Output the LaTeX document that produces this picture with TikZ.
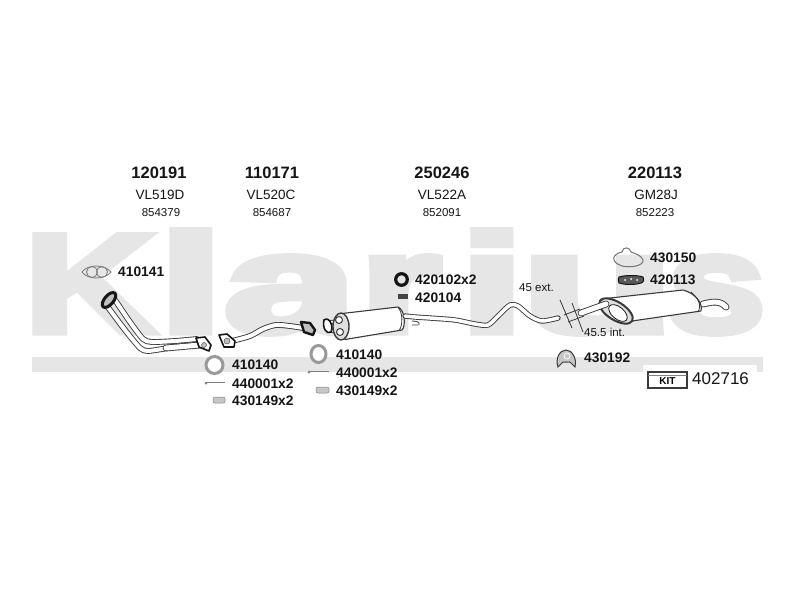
\documentclass[tikz,border=0pt]{standalone}
\usepackage{fontspec}
\setmainfont{Liberation Sans}
\newfontfamily\wmfont[FakeBold=5]{Liberation Sans Bold}
\definecolor{wm}{HTML}{E6E6E6}
\definecolor{ink}{HTML}{151515}
\definecolor{pipeline}{HTML}{3A3A3A}
\newcommand\wmletter[3]{\makebox[#1pt][l]{\scalebox{#2}[1]{#3}}}
\tikzset{
  ref/.style={font=\bfseries\fontsize{16.5}{18}\selectfont,text=ink,inner sep=0pt},
  sub/.style={font=\fontsize{13.5}{15}\selectfont,text=ink,inner sep=0pt},
  oe/.style={font=\fontsize{11.5}{13}\selectfont,text=ink,inner sep=0pt},
  lab/.style={font=\bfseries\fontsize{13.8}{15}\selectfont,text=ink,inner sep=0pt,anchor=west},
  note/.style={font=\fontsize{11.5}{13}\selectfont,text=ink,inner sep=0pt,anchor=west},
  tube/.style={draw=pipeline,line width=.9pt,double=white,double distance=#1,line cap=round,line join=round},
  tube/.default=3pt,
  body/.style={draw=pipeline,line width=1.1pt,fill=white,line join=round},
  thin/.style={draw=pipeline,line width=.8pt},
  gring/.style={draw=gray!80,line width=3pt,fill=white},
  flange/.style={draw=ink,line width=1.6pt,fill=white,line join=round},
  sleeve/.style={draw=gray,fill=gray!45,line width=.5pt,rounded corners=2pt},
}
\begin{document}
\begin{tikzpicture}[x=1pt,y=-1pt]
\useasboundingbox (0,0) rectangle (800,600);
\fill[white] (0,0) rectangle (800,600);
% watermark
\node[anchor=base west,inner sep=0pt,text=wm,font=\wmfont\fontsize{140}{140}\selectfont] (wmk) at (24.7,332) {\wmletter{134.3}{1.28}{K}\wmletter{65.1}{1.64}{l}\wmletter{135.9}{1.70}{a}\wmletter{100}{1.48}{r}\wmletter{61.6}{1.64}{i}\wmletter{145.4}{1.78}{u}\wmletter{100}{1.26}{s}};
\fill[wm] (32,357) rectangle (763,372);
\fill[white] (643,365) rectangle (757,400);
% headings
\node[ref] (r1) at (159,173) {120191};
\node[ref] (r2) at (272,173) {110171};
\node[ref] (r3) at (442,173) {250246};
\node[ref] (r4) at (655,173) {220113};
\node[sub] (s1) at (160,195) {VL519D};
\node[sub] (s2) at (271,195) {VL520C};
\node[sub] (s3) at (442,195) {VL522A};
\node[sub] (s4) at (656,195) {GM28J};
\node[oe] (o1) at (161,213) {854379};
\node[oe] (o2) at (272,213) {854687};
\node[oe] (o3) at (442,213) {852091};
\node[oe] (o4) at (655,213) {852223};
% labels
\node[lab] (l1) at (118,272) {410141};
\node[lab] (l2) at (232,365) {410140};
\node[lab] (l3) at (232,384) {440001x2};
\node[lab] (l4) at (232,401) {430149x2};
\node[lab] (l5) at (336,355) {410140};
\node[lab] (l6) at (336,373) {440001x2};
\node[lab] (l7) at (336,391) {430149x2};
\node[lab] (l8) at (415,280) {420102x2};
\node[lab] (l9) at (415,298) {420104};
\node[lab] (l10) at (650,258) {430150};
\node[lab] (l11) at (650,280) {420113};
\node[lab] (l12) at (584,358) {430192};
\node[note] (n1) at (519,288) {45 ext.};
\node[note] (n2) at (584,332) {45.5 int.};
% gasket 410141
\draw[draw=gray,line width=.9pt] (82,272) .. controls (88,264) and (104,264) .. (111,272) .. controls (104,280) and (88,280) .. (82,272) -- cycle;
\draw[gray,line width=.9pt] (92,272) circle (5.5) (102,272) circle (5.5);
% front pipe
\draw[tube=4pt] plot[smooth,tension=.4] coordinates {(107,306) (125,330) (140,348) (148,351) (168,348)};
\draw[tube=4pt] plot[smooth,tension=.4] coordinates {(115,300) (130,322) (143,339) (152,342) (175,341) (197,339)};
\draw[tube=5pt] (166,348) -- (200,345);
\draw[draw=ink,line width=3pt,fill=gray!50,rotate around={50:(109,300)}] (109,300) ellipse [x radius=9,y radius=4.5];
\draw[flange] (196,338) -- (205,337) -- (211,345) -- (209,351) -- (199,347) -- cycle;
\draw[pipeline,fill=gray!50] (204,345) circle (2.5);
% intermediate pipe
\draw[tube=4pt] plot[smooth,tension=.5] coordinates {(232,341) (250,336) (263,329) (276,325) (290,326) (303,328)};
\draw[flange] (219,335) -- (227,334) -- (235,341) -- (234,347) -- (224,347) -- cycle;
\draw[pipeline,fill=gray!50] (227,341) circle (3);
\draw[draw=ink,line width=2.4pt,fill=gray!50,line join=round] (301,322) -- (310,323) -- (315,330) -- (313,335) -- (304,332) -- cycle;
% centre muffler
\draw[tube=2.5pt] (327,323) -- (338,321);
\draw[tube=2.5pt] (328,330) -- (338,332);
\draw[draw=ink,line width=1.6pt,fill=white] (324,320) .. controls (329,316) and (334,326) .. (331,332) .. controls (327,335) and (322,328) .. (324,320) -- cycle;
\draw[body] (342,313.5) -- (398,307) .. controls (405,310) and (406,326) .. (402,330) -- (345,339.5) -- cycle;
\draw[draw=pipeline,line width=1.4pt,fill=gray!25] (341,326.5) ellipse [x radius=8,y radius=13.5];
\draw[pipeline,fill=white,line width=1pt] (339,320) circle (3.5) (340,332) circle (3.5);
\draw[thin] (398,307.5) .. controls (403,312) and (403,326) .. (399,330.5);
% centre pipe
\draw[tube=3.5pt] plot[smooth,tension=.45] coordinates {(405,316) (415,317) (430,318) (455,320) (475,324) (488,325) (498,316) (510,305) (518,306) (530,316) (542,321) (558,318)};
\draw[thin] (412,321) .. controls (416,321) and (420,322) .. (419,325) (412,325) -- (418,325);
% dimension marks
\draw[thin] (560,300) -- (572,328) (572,303) -- (583,332);
\draw[thin] (564,315) -- (580,309) (568,322) -- (584,316);
% rear muffler
\draw[tube=5pt] (703,304) .. controls (712,302) and (720,300) .. (726,307);
\draw[body] (601,299) -- (683,290) .. controls (695,293) and (703,303) .. (701,311) -- (625,322) -- cycle;
\draw[thin] (691,292) .. controls (698,298) and (702,305) .. (698,312);
\draw[draw=pipeline,line width=2pt,fill=gray!25,rotate around={-32:(616,311)}] (616,311) ellipse [x radius=19,y radius=9];
\draw[draw=ink,line width=.8pt,fill=white,rotate around={-40:(618,313)}] (618,313) ellipse [x radius=11,y radius=6];
\draw[tube=5pt] (581,313) -- (606,304);
% icons
\draw[gring] (214.5,365) ellipse [x radius=8.5,y radius=8.5];
\draw[gring] (318.5,354) ellipse [x radius=7.5,y radius=8.5];
\draw[gray,line width=.8pt,double=white,double distance=.8pt] (207,383) -- (225,383);
\fill[gray] (206,383) circle (1.5);
\draw[gray,line width=.8pt,double=white,double distance=.8pt] (310,372) -- (329,372);
\fill[gray] (309,372) circle (1.5);
\draw[sleeve] (213,397) rectangle (225,403);
\draw[sleeve] (316,387) rectangle (329,393);
\draw[ink,line width=3.2pt] (401.5,279.5) circle (5.8);
\fill[ink!80] (398,294) rectangle (408,299);
% 430150
\draw[gray!90!black,line width=1pt] (622,252) .. controls (623,246) and (630,247) .. (631,252) .. controls (636,254) and (641,255) .. (643,260) .. controls (644,266) and (630,268) .. (622,266) .. controls (610,262) and (612,254) .. (622,252) -- cycle;
% 420113
\draw[ink,fill=gray!70!black,line width=1pt] (619,277) .. controls (625,275) and (638,275) .. (643,277) .. controls (644,280) and (644,282) .. (641,283) .. controls (635,285) and (625,285) .. (619,283) .. controls (618,281) and (618,279) .. (619,277) -- cycle;
\fill[white] (625,280) circle (1) (631,279) circle (1) (637,280) circle (1);
% 430192
\draw[draw=pipeline,line width=1pt,fill=gray!45] (558,367) .. controls (555,358) and (560,350) .. (566,350) .. controls (572,350) and (577,358) .. (575,367) -- (570,362) -- (563,362) -- cycle;
\draw[draw=white,line width=.7pt] (567,356) circle (3);
% kit
\draw[draw=pipeline,line width=1.1pt] (648,388) -- (648,372) -- (687,372) -- (687,388) -- cycle;
\draw[draw=gray,line width=1pt] (648,375) -- (687,375);
\node[inner sep=0pt,font=\bfseries\fontsize{10}{11}\selectfont,text=black] (kit) at (667.5,381.5) {KIT};
\node[inner sep=0pt,anchor=west,font=\fontsize{17}{18}\selectfont,text=ink] (kitn) at (692,379) {402716};
\end{tikzpicture}
\end{document}
